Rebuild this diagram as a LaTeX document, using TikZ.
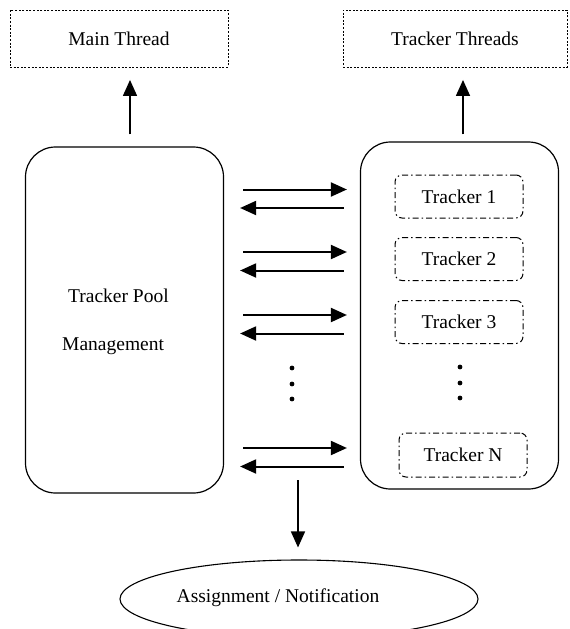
\documentclass[tikz,border=0pt]{standalone}
\usepackage{fontspec}
\setmainfont{Liberation Serif}
\usetikzlibrary{arrows.meta,shapes.geometric}

\tikzset{
	thread/.style={draw, dash pattern=on 2pt off 1.6pt, line width=.9pt, inner sep=0pt, minimum width=#1, minimum height=57pt},
	block/.style={draw, rounded corners=30pt, line width=1.2pt, inner sep=0pt, minimum width=198pt},
	tracker/.style={draw, dash pattern=on 6pt off 3pt on 1.5pt off 3pt, rounded corners=7pt, line width=1pt, inner sep=0pt, minimum width=128pt, minimum height=43pt},
	vert/.style={line width=1.5pt, -{Triangle[length=16pt,width=14pt]}},
	horiz/.style={line width=2pt, -{Triangle[length=16pt,width=14pt]}}
}

\begin{document}
\begin{tikzpicture}[x=1pt, y=-1pt, font=\fontsize{19.5}{23.4}\selectfont]
		\useasboundingbox (0,0) rectangle (570,629);

		% upper boxes
		\node[thread=218pt] (main) at (119,38.5) {Main Thread};
		\node[thread=224pt] (thr) at (455,38.5) {Tracker Threads};

		% pool and trackers
		\node[block, minimum height=346pt] (pool) at (124.5,320) {};
		\node[block, minimum height=347pt] (group) at (459.5,315.5) {};
		\node[anchor=west, inner sep=0pt, align=left] (pooltext) at (62,322) {\hspace*{6pt}Tracker Pool\\[24.6pt]Management};
		\node[tracker] (t1) at (459,196.5) {Tracker 1};
		\node[tracker] (t2) at (459,259) {Tracker 2};
		\node[tracker] (t3) at (459,322) {Tracker 3};
		\node[tracker, minimum height=44pt] (tN) at (463,455) {Tracker N};

		\node[draw, ellipse, line width=1.1pt, inner sep=0pt, minimum width=358pt, minimum height=78pt] (ell) at (299,599) {};
		\node (elltext) at (278,598) {Assignment / Notification};

		\coordinate (mx) at (130,0);
		\coordinate (tx) at (463,0);
		\coordinate (dtop) at (298,480);

		\draw[vert, shorten <=12pt, shorten >=12.5pt] (pool.north -| mx) -- (main.south -| mx);
		\draw[vert, shorten <=7pt, shorten >=12.5pt] (group.north -| tx) -- (thr.south -| tx);
		\draw[vert, shorten >=12pt] (dtop) -- (dtop |- ell.north);

		\foreach \t in {t1,t2,t3,tN}{
			\draw[horiz, shorten <=19pt, shorten >=13pt] ([yshift=7pt]\t.west -| pool.east) -- ([yshift=7pt]\t.west -| group.west);
			\draw[horiz, shorten <=16pt, shorten >=16pt] ([yshift=-11.5pt]\t.west -| group.west) -- ([yshift=-11.5pt]\t.west -| pool.east);
		}

		\foreach \y in {368,384,399}{
			\fill (292,\y) circle [radius=2.4pt];
			\fill (460,\y-1) circle [radius=2.4pt];
		}
	\end{tikzpicture}
\end{document}
